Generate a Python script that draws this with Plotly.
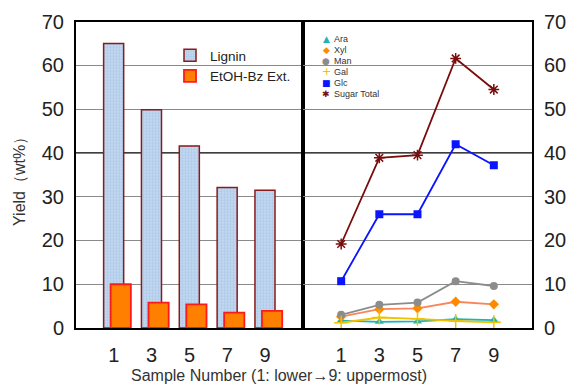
import plotly.graph_objects as go

samples = [1, 3, 5, 7, 9]
tick_labels = ["1", "3", "5", "7", "9"]
y_ticks = [0, 10, 20, 30, 40, 50, 60, 70]
gray_grid = [10, 20, 30, 50, 60]

lignin = [65.0, 49.9, 41.6, 32.1, 31.5]
etoh_bz = [10.0, 5.8, 5.4, 3.5, 3.9]

ara = [1.7, 1.4, 1.5, 2.0, 1.8]
xyl = [2.6, 4.3, 4.5, 6.0, 5.4]
man = [3.0, 5.3, 5.8, 10.7, 9.6]
gal = [1.2, 2.4, 2.1, 1.6, 1.3]
glc = [10.7, 26.0, 26.0, 42.0, 37.2]
sugar_total = [19.2, 38.9, 39.5, 61.6, 54.5]

W, H = 571, 385
FONT = "Liberation Sans, Arial, sans-serif"

xl0, xl1, xr1 = 76 / W, 303 / W, 532 / W
yb, yt = 1 - 328 / H, 1 - 21.7 / H

fig = go.Figure()

fig.add_trace(go.Bar(
    x=samples, y=lignin, name="Lignin", xaxis="x", yaxis="y",
    width=1.06, offset=-0.54,
    marker=dict(color="#b0cbe8", line=dict(color="#8b1a1a", width=1.5),
                pattern=dict(shape=".", fgcolor="#8fb5df", bgcolor="#c8dcf1", size=3, solidity=0.5)),
    legend="legend",
))
fig.add_trace(go.Bar(
    x=samples, y=etoh_bz, name="EtOH-Bz Ext.", xaxis="x", yaxis="y",
    width=1.07, offset=-0.17,
    marker=dict(color="#ff8000", line=dict(color="#ff1a1a", width=1.8)),
    legend="legend",
))

# (name, values, line colour, marker colour, plotly symbol, legend glyph, glyph size)
sugar_series = [
    ("Ara", ara, "#1fb4b4", "#1fb4b4", "triangle-up", "▲", 9),
    ("Xyl", xyl, "#f7875a", "#ff8a00", "diamond", "◆", 9),
    ("Man", man, "#8c8c8c", "#8c8c8c", "circle", "●", 9),
    ("Gal", gal, "#f2c200", "#f2c200", "cross-thin", "+", 11),
    ("Glc", glc, "#0a14ff", "#0a14ff", "square", "■", 9),
    ("Sugar Total", sugar_total, "#7a0c0c", "#7a0c0c", "asterisk-open", "✱", 9),
]

for name, vals, lc, mc, sym, glyph, gs in sugar_series:
    m = dict(color=mc, symbol=sym, size=8)
    if sym in ("cross-thin", "asterisk-open"):
        m["line"] = dict(color=mc, width=1.5)
        m["size"] = 10 if sym == "cross-thin" else 9
    fig.add_trace(go.Scatter(
        x=samples, y=vals, name=name, mode="lines+markers", xaxis="x2", yaxis="y2",
        line=dict(color=lc, width=1.8), marker=m, showlegend=False,
    ))

# compact in-plot key for the sugar series
row_y = [39.5, 50.3, 61.1, 71.9, 82.7, 93.5]
for (name, vals, lc, mc, sym, glyph, gs), ry in zip(sugar_series, row_y):
    fig.add_annotation(text=glyph, x=326 / W, y=1 - ry / H, xref="paper", yref="paper",
                       showarrow=False, xanchor="center", yanchor="middle",
                       font=dict(family="DejaVu Sans", size=gs, color=mc))
    fig.add_annotation(text=name, x=332 / W, y=1 - ry / H, xref="paper", yref="paper",
                       showarrow=False, xanchor="left", yanchor="middle",
                       font=dict(family=FONT, size=9, color="#333"))

axis_common = dict(range=[-1, 11], tickvals=samples, ticktext=tick_labels,
                   showgrid=False, zeroline=False, showline=True, mirror=True,
                   linecolor="black", linewidth=2, ticks="", ticklabelstandoff=8,
                   tickfont=dict(family=FONT, size=20, color="#222"))
yaxis_common = dict(range=[0, 70], tickvals=y_ticks, showgrid=False,
                    minor=dict(tickvals=gray_grid, showgrid=True, gridcolor="#8a8a8a",
                               gridwidth=1, ticks=""),
                    zeroline=False, showline=True, mirror=True,
                    linecolor="black", linewidth=2, ticks="", ticklabelstandoff=6,
                    tickfont=dict(family=FONT, size=20, color="#222"),
                    domain=[yb, yt])

fig.update_layout(
    width=W, height=H,
    margin=dict(l=0, r=0, t=0, b=0, autoexpand=False),
    paper_bgcolor="white", plot_bgcolor="white",
    barmode="overlay",
    xaxis=dict(domain=[xl0, xl1], anchor="y", **axis_common),
    xaxis2=dict(domain=[xl1, xr1], anchor="y2", **axis_common),
    yaxis=dict(anchor="x", side="left", **yaxis_common),
    yaxis2=dict(anchor="x2", side="right", **yaxis_common),
    legend=dict(x=170 / W, y=1 - 40 / H, xanchor="left", yanchor="top",
                bgcolor="rgba(0,0,0,0)", font=dict(family=FONT, size=13.5, color="#222"),
                itemwidth=30, tracegroupgap=0),
    showlegend=True,
)

for xr, yr in (("x domain", "y"), ("x2 domain", "y2")):
    fig.add_shape(type="line", xref=xr, yref=yr, x0=0, x1=1, y0=40, y1=40,
                  line=dict(color="black", width=1.2), layer="below")

fig.add_annotation(text="Yield（wt%）", x=20 / W, y=1 - 178 / H, xref="paper", yref="paper",
                   textangle=-90, showarrow=False, xanchor="center", yanchor="middle",
                   font=dict(family=FONT, size=16, color="#333"))
fig.add_annotation(text="Sample Number (1: lower→9: uppermost)", x=279 / W, y=1 - 375 / H,
                   xref="paper", yref="paper", showarrow=False, xanchor="center", yanchor="middle",
                   font=dict(family=FONT, size=16, color="#333"))

fig.write_html("out.html", config={"displayModeBar": False},
               post_script="document.body.style.margin='0';document.body.style.overflow='hidden';")
